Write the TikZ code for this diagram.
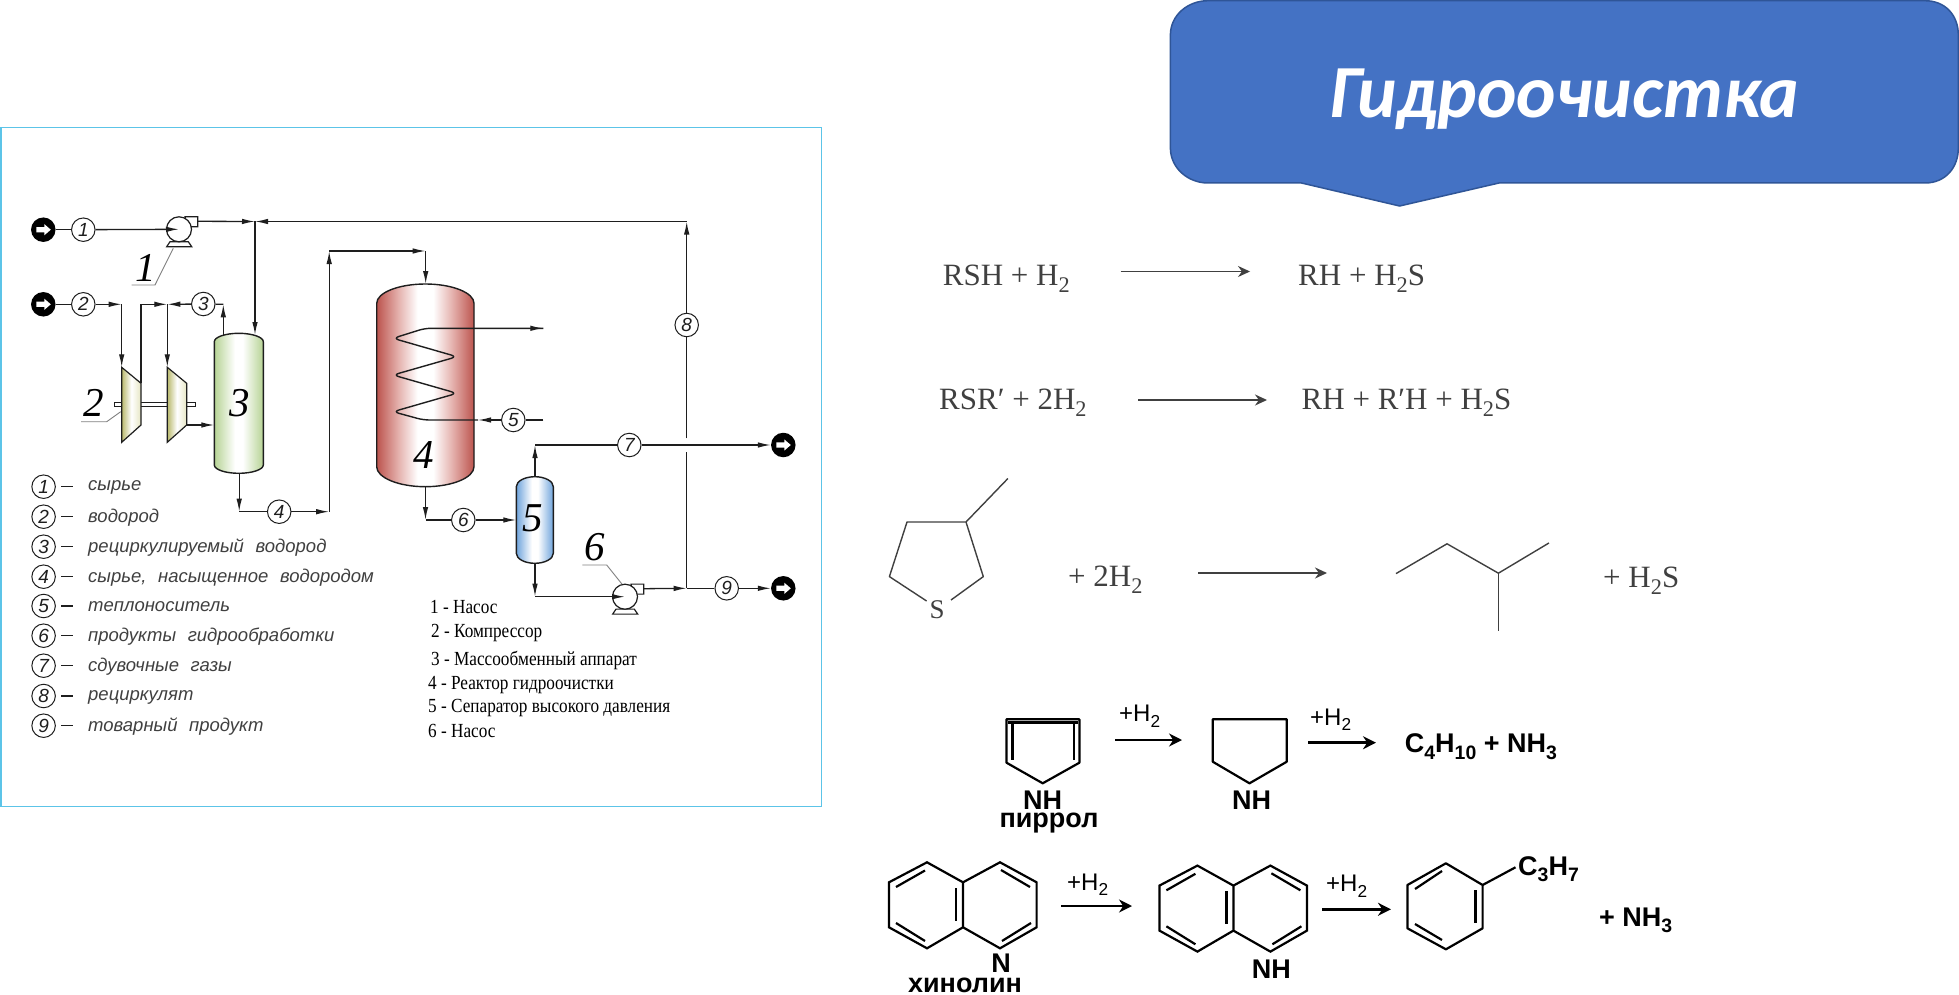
\documentclass[tikz,border=0pt]{standalone}
\usepackage{graphicx}
\usepackage{fontspec}
\setmainfont{Liberation Serif}
\newfontfamily\sansf{Liberation Sans}
\newfontfamily\titlef{Carlito}
\newfontfamily\legf[FakeStretch=0.86]{Liberation Serif}
\usetikzlibrary{arrows.meta,calc}
\definecolor{linec}{HTML}{1E1E1E}
\definecolor{boxc}{HTML}{5CC4E8}
\definecolor{titlec}{HTML}{4472C4}
\definecolor{titleb}{HTML}{2F5597}
\definecolor{redA}{HTML}{BC544E}
\definecolor{redB}{HTML}{E4B0AC}
\definecolor{grnA}{HTML}{B6D394}
\definecolor{bluA}{HTML}{6FA4DC}
\definecolor{oliA}{HTML}{B9B96C}
\definecolor{oliB}{HTML}{E6E6C4}
\definecolor{leadc}{HTML}{808080}
\pgfdeclarehorizontalshading{redv}{100bp}{color(0bp)=(redA);color(25bp)=(redA);color(36bp)=(redB);color(46bp)=(white);color(54bp)=(white);color(64bp)=(redB);color(75bp)=(redA);color(100bp)=(redA)}
\pgfdeclarehorizontalshading{grnv}{100bp}{color(0bp)=(grnA);color(25bp)=(grnA);color(46bp)=(white);color(54bp)=(white);color(75bp)=(grnA);color(100bp)=(grnA)}
\pgfdeclarehorizontalshading{bluv}{100bp}{color(0bp)=(bluA);color(25bp)=(bluA);color(46bp)=(white);color(54bp)=(white);color(75bp)=(bluA);color(100bp)=(bluA)}
\pgfdeclarehorizontalshading{oliv}{100bp}{color(0bp)=(oliA);color(25bp)=(oliA);color(50bp)=(white);color(75bp)=(oliB);color(100bp)=(oliB)}
\newcommand{\dn}[1]{\raisebox{-.24em}{\scalebox{.72}{#1}}}
\newcommand{\fsz}[1]{\fontsize{#1}{#1}\selectfont}
\newcommand{\vessel}[7]{%
  \pgfmathsetmacro{\xm}{(#2+#3)/2}
  \pgfmathsetmacro{\kx}{.55*(#3-#2)/2}
  \path[shade,shading=#1,draw=linec,line width=1.4]
    (#2,#5) .. controls (#2,{#5-.55*(#5-#4)}) and ({\xm-\kx},#4) .. (\xm,#4)
    .. controls ({\xm+\kx},#4) and (#3,{#5-.55*(#5-#4)}) .. (#3,#5)
    -- (#3,#6) .. controls (#3,{#6+.55*(#7-#6)}) and ({\xm+\kx},#7) .. (\xm,#7)
    .. controls ({\xm-\kx},#7) and (#2,{#6+.55*(#7-#6)}) .. (#2,#6) -- cycle;}
\newcommand{\pump}[3]{%
  \draw[line width=1.2,draw=linec,fill=white] ({#2+6},{#3-12.6}) -- ({#2+18.7},{#3-12.6}) -- ({#2+18.7},{#3-2.6}) -- ({#2+8},{#3-2.6}) -- cycle;
  \draw[line width=1.2,draw=linec,fill=white] ({#2-9},{#3+12.4}) -- ({#2-12.3},{#3+17.4}) -- ({#2+12.7},{#3+17.4}) -- ({#2+9.3},{#3+12.4}) -- cycle;
  \node[pumpc] (#1) at (#2,#3) {};
  \coordinate (#1out) at ({#2+18.7},{#3-8});}
\newcommand{\port}[3]{%
  \node[portc] (#1) at (#2,#3) {};
  \fill[white] (#1.center) +(-7,-2.6) -- +(1,-2.6) -- +(1,-5.6) -- +(7.5,0) -- +(1,5.6) -- +(1,2.6) -- +(-7,2.6) -- cycle;}
\newcommand{\quin}{%
  \draw[chem,line join=miter] (963,882.3) -- (927,862.3) -- (889,882.3) -- (889,927.3) -- (927,948.3) -- (963,927.3) -- (963,882.3) -- (1000,862.3) -- (1036.6,882.3) -- (1036.6,927.3) -- (1000,948.3) -- (963,927.3);
  \draw[chem] (896,887) -- (925,870.5);
  \draw[chem] (896,923) -- (925,941);
  \draw[chem] (956,888) -- (956,921);
  \draw[chem] (1001,870) -- (1030,887);
  \draw[chem] (1002,941) -- (1031,923);}
\tikzset{
  flowline/.style={line width=1.3,draw=linec},
  flow/.style={flowline,-{Latex[length=13pt,width=5.5pt]}},
  streamc/.style={circle,draw=linec,line width=1,fill=white,minimum size=23.5pt,inner sep=0pt,font=\sansf\itshape\fsz{19},text=linec},
  pumpc/.style={circle,draw=linec,line width=1.2,fill=white,minimum size=25pt,inner sep=0pt},
  portc/.style={circle,fill=black,minimum size=24.5pt,inner sep=0pt},
  bignum/.style={font=\itshape\fsz{41},text=black,inner sep=0pt},
  leader/.style={draw=leadc,line width=.9},
  legtext/.style={anchor=west,inner sep=0pt,font=\sansf\itshape\fsz{18.5},text=linec!85},
  legdash/.style={draw=linec,line width=1.1},
  legname/.style={anchor=west,inner sep=0pt,font=\legf\fsz{20},text=black},
  rxn/.style={anchor=base west,inner sep=0pt,font=\fsz{31},text=linec!85},
  rxnarrow/.style={draw=linec!85,line width=1.6,-{Stealth[length=12pt,width=11pt]}},
  chem/.style={draw=black,line width=2.2},
  chemthin/.style={draw=linec!85,line width=1.4},
  chemarrow/.style={draw=black,line width=2.8,-{Stealth[length=13pt,width=13pt]}},
  bold/.style={inner sep=0pt,font=\sansf\bfseries\fsz{27},text=black},
  boldb/.style={anchor=base west,inner sep=0pt,font=\sansf\bfseries\fsz{27},text=black},
  plain/.style={anchor=base west,inner sep=0pt,font=\sansf\fsz{24},text=black},
}
\begin{document}
\begin{tikzpicture}[x=1pt,y=-1pt]
\useasboundingbox (0,0) rectangle (1959,995);
\fill[white] (0,0) rectangle (1959,995);
% frame of the left figure
\draw[draw=boxc,line width=1.3] (1,127.5) rectangle (821.5,806.5);
% vessels
\vessel{grnv}{214.3}{263.3}{333.3}{341.7}{465}{473.3}
\vessel{redv}{376.7}{474}{284}{303.3}{466.7}{486.7}
\vessel{bluv}{516.3}{553.3}{476.7}{486.7}{553.3}{563.3}
% compressors
\draw[leader] (120.7,411.7) -- (106.7,421.7) -- (81,421.7);
\draw[draw=linec,line width=1,fill=white] (114,402.7) rectangle (195,406.7);
\path[shade,shading=oliv,draw=linec,line width=1.2] (121.7,367.3) -- (141,383.3) -- (141,425) -- (121.7,442.3) -- cycle;
\path[shade,shading=oliv,draw=linec,line width=1.2] (167.3,367.3) -- (186.7,383.3) -- (186.7,425) -- (167.3,442.3) -- cycle;
\coordinate (c1in) at (121.7,367.3);
\coordinate (c1out) at (141,383.3);
\coordinate (c2in) at (167.3,367.3);
\coordinate (c2out) at (186.7,425);
% coil
\draw[line width=1.4,draw=linec,rounded corners=6pt] (543.3,328.3) -- (425,328.3) -- (393,338.3) -- (457,356.7) -- (393,375) -- (457,393.3) -- (393,411.7) -- (423.3,420) -- (478,420);
% pumps
\draw[leader] (173.3,248.3) -- (155,285) -- (131.7,285);
\pump{pumpa}{179}{229.3}
\draw[leader] (626.7,590) -- (606.7,565) -- (582.3,565);
\pump{pumpb}{625}{596.7}
% ports
\port{in1}{43.3}{229.7}
\port{in2}{43.3}{304.3}
\port{out7}{783.3}{445}
\port{out9}{783.3}{588.3}
% stream circles
\node[streamc] (s1) at (83.3,229.7) {1};
\node[streamc] (s2) at (83.3,304.3) {2};
\node[streamc] (s3) at (203.3,304) {3};
\node[streamc] (s4) at (279.2,511.7) {4};
\node[streamc] (s5) at (513.3,420) {5};
\node[streamc] (s6) at (463.3,520) {6};
\node[streamc] (s7) at (629.3,445) {7};
\node[streamc] (s8) at (686.7,325) {8};
\node[streamc] (s9) at (726.7,588.3) {9};
% junctions
\coordinate (ja) at (255,221.5);
\coordinate (a3) at (255,335);
\coordinate (jb) at (121.7,304.3);
\coordinate (jc) at (141,304.3);
\coordinate (jd) at (167.3,304.3);
\coordinate (je) at (223.3,304.3);
\coordinate (col3top) at (223.3,335);
\coordinate (col3in) at (214.3,425);
\coordinate (col3bot) at (239.2,473.3);
\coordinate (k4a) at (239.2,511.7);
\coordinate (k4b) at (329.2,511.7);
\coordinate (k4c) at (329.2,251);
\coordinate (k4d) at (425.7,251);
\coordinate (r4top) at (425.7,284);
\coordinate (heatout) at (543.3,328.3);
\coordinate (heatin) at (543.3,420);
\coordinate (heatarr) at (478,420);
\coordinate (r4bot) at (425.5,486.7);
\coordinate (k6a) at (425.5,520);
\coordinate (sep6) at (516.3,520);
\coordinate (septop) at (535,476.7);
\coordinate (k7a) at (535,445);
\coordinate (sepbot) at (535,563.3);
\coordinate (k8a) at (535,596.7);
\coordinate (j9) at (686.7,588.3);
\coordinate (g2) at (686.7,451.7);
\coordinate (g1) at (686.7,438.3);
\coordinate (j8) at (686.7,221.5);
% connectors
\draw[flowline] (in1) -- (s1);
\draw[flow] (s1) -- (pumpa.center);
\draw[flow] (pumpaout) -- (ja);
\draw[flow] (j8) -- (ja);
\draw[flow] (ja) -- (a3);
\draw[flowline] (in2) -- (s2);
\draw[flow] (s2) -- (jb);
\draw[flow] (jb) -- (c1in);
\draw[flowline] (c1out) -- (jc);
\draw[flow] (jc) -- (jd);
\draw[flow] (s3) -- (jd);
\draw[flow] (jd) -- (c2in);
\draw[flow] (col3top) -- (je);
\draw[flowline] (je) -- (s3);
\draw[flow] (c2out) -- (col3in);
\draw[flow] (col3bot) -- (k4a);
\draw[flowline] (k4a) -- (s4);
\draw[flow] (s4) -- (k4b);
\draw[flow] (k4b) -- (k4c);
\draw[flow] (k4c) -- (k4d);
\draw[flow] (k4d) -- (r4top);
\draw[flow] (425,328.3) -- (heatout);
\draw[flowline] (heatin) -- (s5);
\draw[flow] (s5) -- (heatarr);
\draw[flow] (r4bot) -- (k6a);
\draw[flowline] (k6a) -- (s6);
\draw[flow] (s6) -- (sep6);
\draw[flow] (septop) -- (k7a);
\draw[flowline] (k7a) -- (s7);
\draw[flow] (s7) -- (out7);
\draw[flow] (sepbot) -- (k8a);
\draw[flow] (k8a) -- (pumpb.center);
\draw[flow] (pumpbout) -- (j9);
\draw[flowline] (j9) -- (s9);
\draw[flow] (s9) -- (out9);
\draw[flowline] (j9) -- (g2);
\draw[flowline] (g1) -- (s8);
\draw[flow] (s8) -- (j8);
% big labels
\node[bignum] (n1) at (146,268.3) {1};
\node[bignum] (n2) at (93.3,403.3) {2};
\node[bignum] (n3) at (239.3,403.3) {3};
\node[bignum] (n4) at (424,455) {4};
\node[bignum] (n5) at (533,518) {5};
\node[bignum] (n6) at (595,546.7) {6};
% legend
\node[streamc] (l1) at (43.6,486.7) {1};
\node[streamc] (l2) at (43.6,516.7) {2};
\node[streamc] (l3) at (43.6,546.7) {3};
\node[streamc] (l4) at (43.6,576.7) {4};
\node[streamc] (l5) at (43.6,606) {5};
\node[streamc] (l6) at (43.6,635.7) {6};
\node[streamc] (l7) at (43.6,665.7) {7};
\node[streamc] (l8) at (43.6,696) {8};
\node[streamc] (l9) at (43.6,725.7) {9};
\foreach \yy in {486.7,516.7,546.7,576.7,606,635.7,665.7,696,725.7} \draw[legdash] (61,\yy) -- (73,\yy);
\node[legtext] (t1) at (88,487.5) {сырье};
\node[legtext] (t2) at (88,517.5) {водород};
\node[legtext] (t3) at (88,547.5) {рециркулируемый\hspace{.35em} водород};
\node[legtext] (t4) at (88,577.5) {сырье,\hspace{.35em} насыщенное\hspace{.35em} водородом};
\node[legtext] (t5) at (88,607) {теплоноситель};
\node[legtext] (t6) at (88,637) {продукты\hspace{.35em} гидрообработки};
\node[legtext] (t7) at (88,667) {сдувочные\hspace{.35em} газы};
\node[legtext] (t8) at (88,697) {рециркулят};
\node[legtext] (t9) at (88,727) {товарный\hspace{.35em} продукт};
\node[legname] (e1) at (430,606.7) {1 - Насос};
\node[legname] (e2) at (431,633.3) {2 - Компрессор};
\node[legname] (e3) at (431,660) {3 - Массообменный аппарат};
\node[legname] (e4) at (428,685) {4 - Реактор гидроочистки};
\node[legname] (e5) at (428,708.3) {5 - Сепаратор высокого давления};
\node[legname] (e6) at (428,730.7) {6 - Насос};
% title callout
\path[fill=titlec,draw=titleb,line width=1.5] (1170.4,35) .. controls (1170.4,15) and (1188,0.7) .. (1208,0.7) -- (1925,0.7) .. controls (1945,0.7) and (1958.3,15) .. (1958.3,35) -- (1958.3,148) .. controls (1958.3,168) and (1945,183) .. (1925,183) -- (1499,183) -- (1399.6,206) -- (1301.5,183) -- (1208,183) .. controls (1188,183) and (1170.4,168) .. (1170.4,148) -- cycle;
\node[anchor=base,inner sep=0pt,text=white,font=\titlef\bfseries\itshape\fsz{75}] (title) at (1564,118) {Гидроочистка};
% reactions 1 and 2
\node[rxn] (r1a) at (942.7,285) {RSH + H\dn{2}};
\node[rxn] (r1b) at (1298,285) {RH + H\dn{2}S};
\draw[rxnarrow] (1120.7,271.5) -- (1250,271.5);
\node[rxn] (r2a) at (939,409) {RSR′ + 2H\dn{2}};
\node[rxn] (r2b) at (1301.5,409) {RH + R′H + H\dn{2}S};
\draw[rxnarrow] (1138,400) -- (1267,400);
% reaction 3
\draw[chemthin,line join=round] (951,600) -- (983.3,576.6) -- (966,522) -- (907,522) -- (889.4,576.6) -- (926.6,601);
\draw[chemthin] (966,522) -- (1007.9,478.5);
\node[inner sep=0pt,font=\fsz{27},text=linec!85] (sulf) at (937,610) {S};
\node[rxn] (r3a) at (1068,586) {+ 2H\dn{2}};
\draw[rxnarrow] (1198,573) -- (1327,573);
\draw[chemthin,line join=round] (1396,573.6) -- (1447,543.8) -- (1498.4,573.2) -- (1548.9,543);
\draw[chemthin] (1498.4,573.2) -- (1498.4,631);
\node[rxn] (r3b) at (1603,587) {+ H\dn{2}S};
% pyrrole
\draw[chem,line join=round] (1006.5,719.3) -- (1079.4,719.3) -- (1079.4,762.7) -- (1042.7,783.3) -- (1006.5,762.7) -- cycle;
\draw[chem] (1012.5,722) -- (1012.5,760);
\draw[chem] (1074,722) -- (1074,760);
\draw[chem] (1008,722.5) -- (1078,722.5);
\node[bold] (nh1) at (1042.7,800) {NH};
\node[bold] (pyr) at (1049,823) {пиррол};
\draw[chemarrow] (1115,740) -- (1182,740);
\node[plain] (h1) at (1119,721.7) {+H\dn{2}};
\draw[chem,line join=round] (1212.7,719.3) -- (1286.8,719.3) -- (1286.8,761.7) -- (1249.5,783.3) -- (1212.7,761.7) -- cycle;
\node[bold] (nh2) at (1251.7,800) {NH};
\draw[chemarrow] (1308,742.7) -- (1376,742.7);
\node[plain] (h2) at (1310,725) {+H\dn{2}};
\node[boldb] (c4) at (1404.7,752.7) {C\dn{4}H\dn{10} + NH\dn{3}};
% quinoline
\quin
\node[bold] (n7) at (1001,963.3) {N};
\node[bold] (quinn) at (965,985) {хинолин};
\draw[chemarrow] (1061,906) -- (1132,906);
\node[plain] (h3) at (1067,890) {+H\dn{2}};
\begin{scope}[xshift=270.4pt,yshift=-3.3pt]
\quin
\end{scope}
\node[bold] (nh3) at (1271.4,969.3) {NH};
\draw[chemarrow] (1322,909.3) -- (1391,909.3);
\node[plain] (h4) at (1326,891.7) {+H\dn{2}};
% benzene
\draw[chem,line join=round] (1445.9,863.3) -- (1482.6,885) -- (1482.6,928.3) -- (1445.9,949.3) -- (1407.4,928.3) -- (1407.4,885) -- cycle;
\draw[chem] (1415,889) -- (1442,871);
\draw[chem] (1415,924) -- (1442,940);
\draw[chem] (1475.5,890) -- (1475.5,923);
\draw[chem] (1482.6,885) -- (1515.5,867.3);
\node[boldb] (c3) at (1518,875) {C\dn{3}H\dn{7}};
\node[boldb] (nh3b) at (1599,926) {+ NH\dn{3}};
\end{tikzpicture}
\end{document}
